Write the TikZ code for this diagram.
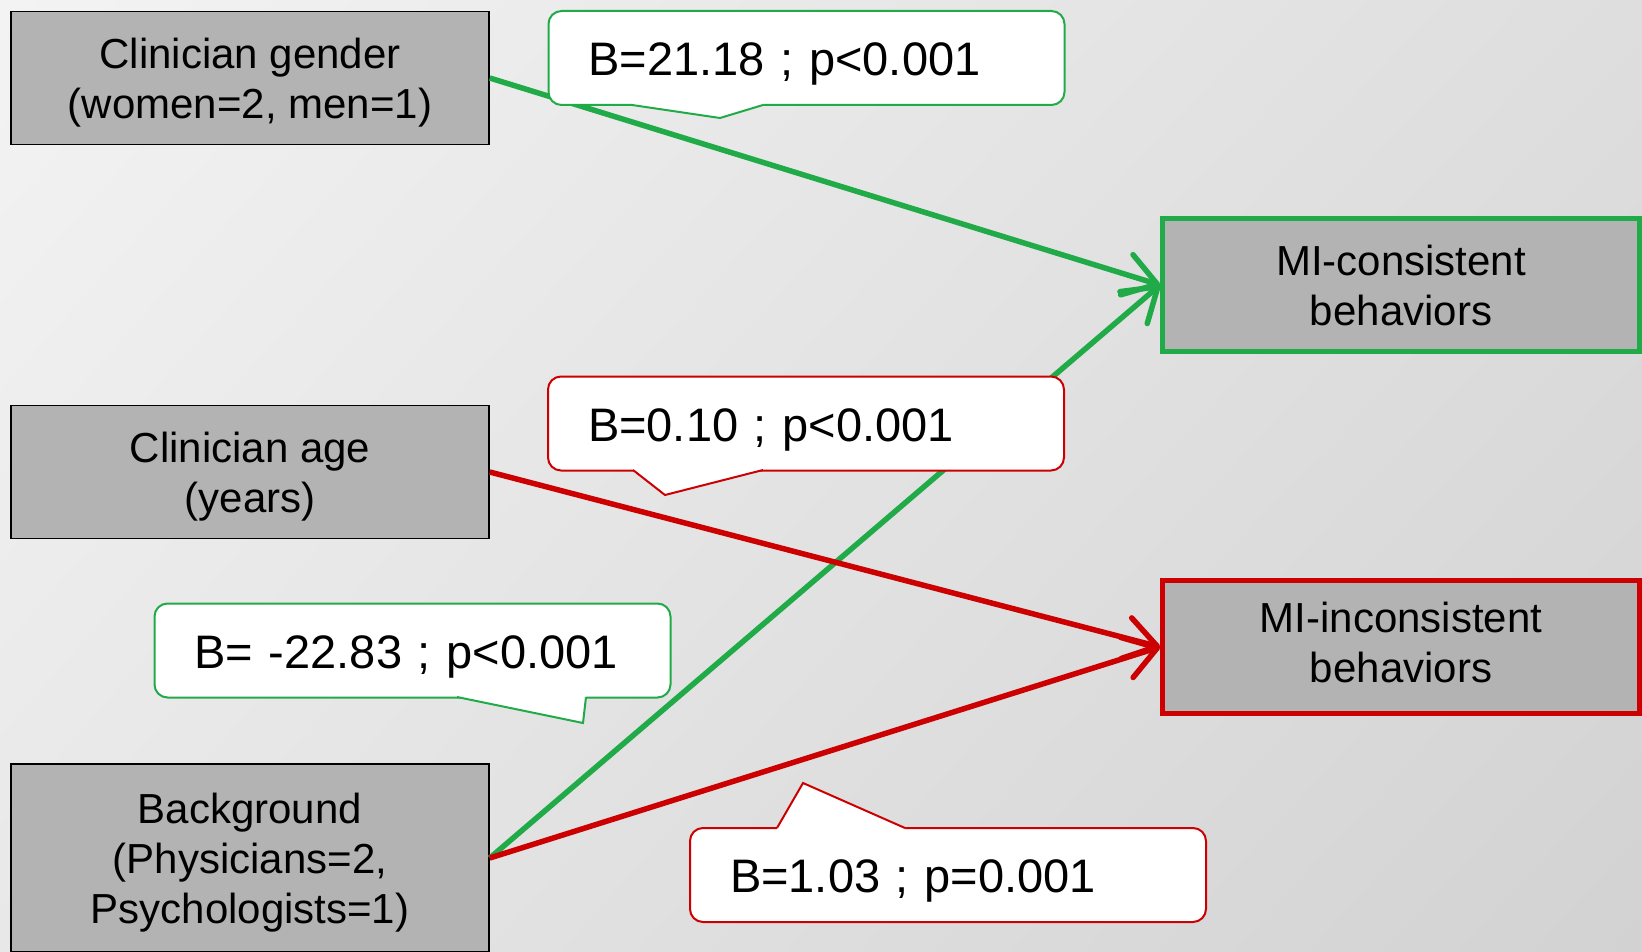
\documentclass[tikz,border=0pt]{standalone}
\usepackage{fontspec}
\setmainfont{Liberation Sans}
\usetikzlibrary{arrows.meta,shadings}
\definecolor{cgreen}{RGB}{33,170,72}
\definecolor{cred}{RGB}{204,0,0}
\definecolor{boxgray}{RGB}{179,179,179}
\definecolor{bgul}{RGB}{243,243,243}
\definecolor{bgur}{RGB}{222,222,222}
\definecolor{bgll}{RGB}{232,232,232}
\definecolor{bglr}{RGB}{210,210,210}
\begin{document}
\begin{tikzpicture}[x=1pt,y=-1pt,
  inbox/.style={draw=black, line width=1.5pt, fill=boxgray, minimum width=478pt, minimum height=133pt,
    align=center, font=\fontsize{42}{50}\selectfont, text depth=0pt, inner sep=0pt},
  outbox/.style={line width=5pt, fill=boxgray, minimum width=477pt, minimum height=133pt,
    align=center, font=\fontsize{42}{50}\selectfont, text depth=0pt, inner sep=0pt},
  callout/.style={fill=white, line width=2pt, rounded corners=13pt, minimum width=516pt, minimum height=94pt,
    text width=436pt, inner xsep=40pt, inner ysep=0pt, align=left,
    font=\fontsize{47}{56}\selectfont, text height=35pt, text depth=0pt},
  link/.style={line width=5.5pt, -{Straight Barb[length=32pt,width=42pt,round]}},
  ptr/.style={line width=2pt, line join=miter}
]
\useasboundingbox (0,0) rectangle (1642,952);
\clip (0,0) rectangle (1642,952);
\shade[upper left=bgul, upper right=bgur, lower left=bgll, lower right=bglr]
  (0,0) rectangle (1642,952);

% predictor boxes
\node[inbox] (g) at (250,78) {Clinician gender\\(women=2, men=1)};
\node[inbox] (a) at (250,472) {Clinician age\\(years)};
\node[inbox, minimum height=188pt] (b) at (250,858) {Background\\(Physicians=2,\\Psychologists=1)};

% outcome boxes
\node[outbox, draw=cgreen] (mic) at (1401,285) {MI-consistent\\behaviors};
\node[outbox, draw=cred, text depth=9pt] (mii) at (1401,647) {MI-inconsistent\\behaviors};

% connectors
\draw[link, cgreen] (g.east) -- (mic.west);
\draw[link, cgreen] (b.east) -- (mic.west);
\draw[link, cred] (a.east) -- (mii.west);
\draw[link, cred] (b.east) -- (mii.west);

% callouts
\node[callout, draw=cgreen] (c1) at (806.5,58) {B=21.18 ; p<0.001};
\fill[white] (632,101) -- (763,101) -- (763,105) -- (720,118) -- (632,105) -- cycle;
\draw[ptr, cgreen] (632,105) -- (720,118) -- (763,105);

\node[callout, draw=cred] (c2) at (806,423.5) {B=0.10 ; p<0.001};
\fill[white] (633,466) -- (763,466) -- (763,470) -- (665,495) -- (633,470) -- cycle;
\draw[ptr, cred] (633,470) -- (665,495) -- (763,470);

\node[callout, draw=cgreen] (c3) at (412.5,650.5) {B= -22.83 ; p<0.001};
\fill[white] (457,693) -- (586,693) -- (586,697) -- (583,723) -- (457,697) -- cycle;
\draw[ptr, cgreen] (457,697) -- (583,723) -- (586,697);

\node[callout, draw=cred] (c4) at (948,875) {B=1.03 ; p=0.001};
\fill[white] (777,832) -- (905,832) -- (905,828) -- (803,783) -- (777,828) -- cycle;
\draw[ptr, cred] (777,828) -- (803,783) -- (905,828);
\end{tikzpicture}
\end{document}
